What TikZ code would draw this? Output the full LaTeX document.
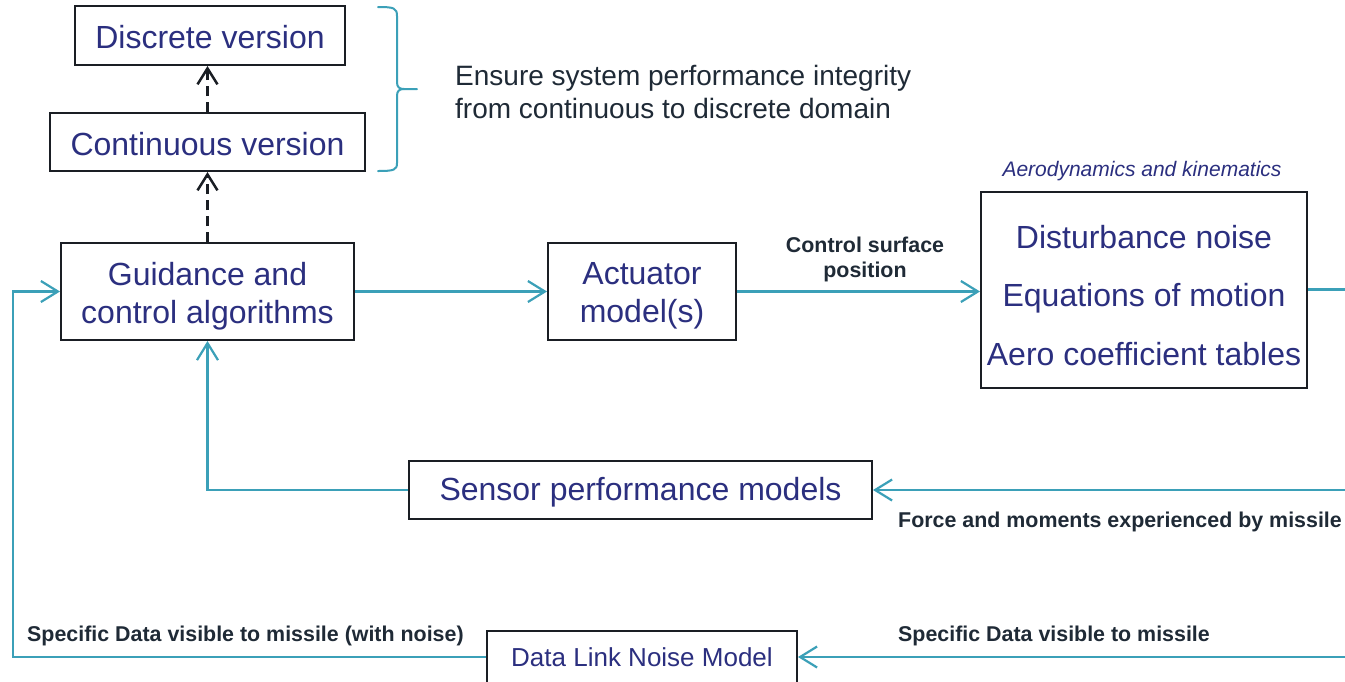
\documentclass[tikz,border=0pt]{standalone}
\usepackage{fontspec}
\setmainfont{Liberation Sans}
\usetikzlibrary{arrows.meta,calc}
\definecolor{navy}{HTML}{2B2F7F}
\definecolor{tealc}{HTML}{3BA0B8}
\definecolor{darktxt}{HTML}{1F2A36}
\definecolor{boxline}{HTML}{1A1E24}
\newcommand{\lowerby}[2]{\raisebox{-#1}[\height][\depth]{#2}}
\tikzset{
  blk/.style={draw=boxline, line width=2pt, rectangle, inner sep=0pt, text=navy, align=center, font=\fontsize{32}{38}\selectfont},
  blkone/.style={blk, text height=26pt, text depth=0pt},
  flow/.style={draw=tealc, line width=2.2pt, -{Straight Barb[length=17pt,width=21pt]}},
  flowplain/.style={draw=tealc, line width=2.2pt},
  dasharrow/.style={draw=boxline, line width=2.5pt, dash pattern=on 10pt off 6pt, -{Straight Barb[length=16pt,width=20pt]}},
  lbl/.style={text=darktxt, font=\bfseries\fontsize{21.4}{25}\selectfont, inner sep=0pt, align=center}
}
\begin{document}
\begin{tikzpicture}[x=1pt,y=-1pt]
\useasboundingbox (0,0) rectangle (1345,681);
\clip (0,0) rectangle (1345,681);
\fill[white] (0,0) rectangle (1345,681);

% boxes
\node[blkone, minimum width=270pt, minimum height=59pt] (disc) at (210,35.5) {Discrete version};
\node[blkone, minimum width=315pt, minimum height=58pt] (cont) at (207.5,142) {Continuous version};
\node[blk, minimum width=293pt, minimum height=97pt] (guid) at (207.5,291.5) {\lowerby{5pt}{Guidance and}\\\lowerby{5pt}{control algorithms}};
\node[blk, minimum width=188pt, minimum height=97pt] (act) at (642,291.5) {\lowerby{4.5pt}{Actuator}\\\lowerby{4.5pt}{model(s)}};
\node[blk, minimum width=326pt, minimum height=196pt, font=\fontsize{32}{58.5}\selectfont] (aero) at (1144,289.5) {\lowerby{6pt}{Disturbance noise}\\\lowerby{6pt}{Equations of motion}\\\lowerby{6pt}{Aero coefficient tables}};
\node[blkone, minimum width=463pt, minimum height=58pt, text height=21pt] (sens) at (640.5,490) {Sensor performance models};
\node[blkone, minimum width=310pt, minimum height=52pt, font=\fontsize{26}{30}\selectfont, text height=18pt] (dl) at (642,657) {Data Link Noise Model};

% texts
\node[text=darktxt, anchor=west, align=left, inner sep=0pt, font=\fontsize{28}{33}\selectfont] (ensure) at (455,91.5) {Ensure system performance integrity\\from continuous to discrete domain};
\node[text=navy, inner sep=0pt, font=\itshape\fontsize{21}{25}\selectfont] (aerolbl) at (1142,171) {Aerodynamics and kinematics};
\node[lbl] (csp) at (865,259) {Control surface\\position};
\node[lbl, anchor=west] (force) at (898,522) {Force and moments experienced by missile};
\node[lbl, anchor=west] (sdv) at (898,636) {Specific Data visible to missile};
\node[lbl, anchor=west] (sdvn) at (27,636) {Specific Data visible to missile (with noise)};

% brace
\draw[tealc, line width=2pt, line cap=round] (378,7) .. controls (394,7) and (397,8) .. (397,16) -- (397,82) .. controls (397,87) and (399,89) .. (404,89) -- (417,89);
\draw[tealc, line width=2pt, line cap=round] (404,89) .. controls (399,89) and (397,91) .. (397,96) -- (397,163) .. controls (397,170) and (394,171) .. (378,171);

% edge coordinates
\coordinate (e1) at (1350,289.5);
\coordinate (e2) at (1350,490);
\coordinate (e3) at (1350,657);
\coordinate (lc) at (13,657);

% connectors
\draw[dasharrow] (guid.north) -- (cont.south);
\draw[dasharrow] (cont.north) -- (cont.north |- disc.south);
\draw[flow] (guid.east) -- (act.west);
\draw[flow] (act.east) -- (act.east -| aero.west);
\draw[flowplain] (aero.east) -- (e1);
\draw[flow] (e2) -- (sens.east);
\draw[flow] (sens.west) -| (guid.south);
\draw[flow] (e3) -- (dl.east);
\draw[flow] (dl.west) -- (lc) |- (guid.west);
\end{tikzpicture}
\end{document}
